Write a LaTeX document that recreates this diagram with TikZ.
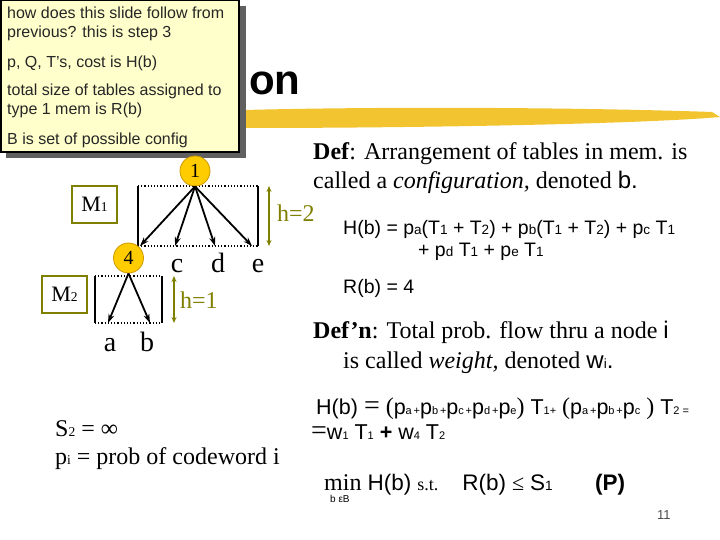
\documentclass[tikz,border=0pt]{standalone}
\usepackage{fontspec}
\setmainfont{Liberation Serif}
\setsansfont{Liberation Sans}
\usetikzlibrary{positioning, calc, arrows.meta}
\definecolor{notefill}{RGB}{255,255,204}
\definecolor{shadowgray}{RGB}{96,96,96}
\definecolor{brushyellow}{RGB}{242,196,48}
\definecolor{nodegold}{RGB}{255,204,0}
\definecolor{nodeedge}{RGB}{204,153,0}
\definecolor{olive}{RGB}{128,128,0}
\newcommand{\fsz}[1]{\fontsize{#1}{#1}\selectfont}
\newcommand{\lowsub}[1]{{\fontsize{11}{11}\selectfont #1}}
\newcommand{\midsub}[1]{{\fontsize{13.5}{13.5}\selectfont #1}}
\tikzset{
  notetext/.style={anchor=base west, inner sep=0pt, font=\sffamily\fsz{16}, text=black!85},
  slidetext/.style={anchor=base west, inner sep=0pt, font=\fsz{24}},
  formula/.style={anchor=base west, inner sep=0pt, font=\sffamily\fsz{19.5}},
  treenode/.style={circle, draw=nodeedge, thick, fill=nodegold, minimum size=30pt, inner sep=0pt, font=\fsz{20}},
  levelside/.style={draw=black, line width=2pt},
  levelrim/.style={draw=black, dotted, line width=1.2pt},
  treeedge/.style={draw=black, line width=1.8pt, -{Stealth[length=9pt,width=6pt]}},
  memlabel/.style={draw=olive, line width=1.5pt, minimum width=45pt, minimum height=37pt, inner sep=0pt, font=\fsz{22}},
  heightarrow/.style={draw=olive, line width=1.5pt, {Stealth[length=6pt,width=5pt]}-{Stealth[length=6pt,width=5pt]}},
  heightlabel/.style={anchor=west, inner sep=0pt, text=olive, font=\fsz{24}},
  leaf/.style={anchor=base, inner sep=0pt, font=\fsz{28}}
}

\begin{document}
\begin{tikzpicture}[x=1pt, y=-1pt]
  \useasboundingbox (0,0) rectangle (720,540);
  \fill[white] (0,0) rectangle (720,540);

  \node[anchor=base west, inner sep=0pt, font=\sffamily\bfseries\fsz{42}] (title) at (249,95) {on};
  \fill[brushyellow] (244,110) .. controls (400,106) and (600,108) .. (712,112)
    -- (720,117) .. controls (640,124) and (420,128) .. (244,128) -- cycle;

  \fill[shadowgray] (6,6) rectangle (246,158);
  \draw[line width=1.5pt, fill=notefill] (0.75,0.75) rectangle (239,152);
  \node[notetext] (q1) at (7,19) {how does this slide follow from};
  \node[notetext] (q2) at (7,38) {previous? this is step 3};
  \node[notetext] (q3) at (7,68) {p, Q, T's, cost is H(b)};
  \node[notetext] (q4) at (7,96) {total size of tables assigned to};
  \node[notetext] (q5) at (7,115) {type 1 mem is R(b)};
  \node[notetext] (q6) at (7,145) {B is set of possible config};

  \draw[levelside] (138,186) -- (138,246) (258,186) -- (258,246);
  \draw[levelrim] (138,186) -- (258,186) (138,246) -- (258,246);
  \draw[levelside] (95,276) -- (95,323) (162,276) -- (162,323);
  \draw[levelrim] (95,276) -- (162,276) (95,323) -- (162,323);

  \node[treenode] (n1) at (195,171) {1};
  \coordinate (t4) at (140,246);
  \coordinate (tc) at (175,246);
  \coordinate (td) at (215,246);
  \coordinate (te) at (252,246);
  \foreach \t in {t4,tc,td,te}
    \draw[treeedge] (n1.south) -- (\t);
  \node[treenode] (n4) at (128.5,258) {4};
  \coordinate (ta) at (108,323);
  \coordinate (tb) at (150,323);
  \foreach \t in {ta,tb}
    \draw[treeedge] (n4.south) -- (\t);

  \node[leaf] (c) at (177,272) {c};
  \node[leaf] (d) at (218,272) {d};
  \node[leaf] (e) at (258,272) {e};
  \node[leaf] (a) at (110,351) {a};
  \node[leaf] (b) at (147,351) {b};

  \node[memlabel] (m1) at (94.5,204.5) {M\midsub{1}};
  \node[memlabel] (m2) at (64.5,294.5) {M\midsub{2}};

  \coordinate (h2top) at (269,186);
  \coordinate (h2bot) at (269,246);
  \draw[heightarrow] (h2top) -- (h2bot);
  \node[heightlabel] (h2) at (277,213) {h=2};
  \coordinate (h1top) at (174,276);
  \coordinate (h1bot) at (174,323);
  \draw[heightarrow] (h1top) -- (h1bot);
  \node[heightlabel] (h1) at (180,300) {h=1};

  \node[slidetext] (def) at (313,160) {\textbf{Def}: Arrangement of tables in mem. is};
  \node[slidetext] (conf) at (313,189) {called a \textit{configuration,} denoted {\sffamily b.}};
  \node[formula] (hb) at (343,235) {H(b) = p\midsub{a}(T\midsub{1} + T\midsub{2}) + p\midsub{b}(T\midsub{1} + T\midsub{2}) + p\midsub{c} T\midsub{1}};
  \node[formula] (hb2) at (418,256) {+ p\midsub{d} T\midsub{1} + p\midsub{e} T\midsub{1}};
  \node[formula] (rb) at (343,293) {R(b) = 4};
  \node[slidetext] (defn) at (313,338) {\textbf{Def’n}: Total prob. flow thru a node {\sffamily i}};
  \node[slidetext] (wgt) at (343,368) {is called \textit{weight,} denoted {\sffamily w\midsub{i}.}};
  \node[slidetext] (hw) at (316,414) {{\sffamily\fsz{21.5}H(b)} {\fsz{28}=} (\sffamily\fsz{21.5}p\lowsub{a\,+}p\lowsub{b\,+}p\lowsub{c\,+}p\lowsub{d\,+}p\lowsub{e}\rmfamily\fsz{24}) \sffamily\fsz{21.5}T\lowsub{1+} \rmfamily\fsz{24}(\sffamily\fsz{21.5}p\lowsub{a\,+}p\lowsub{b\,+}p\lowsub{c}\rmfamily\fsz{24} ) \sffamily\fsz{21.5}T\lowsub{2 =}};
  \node[slidetext] (hw2) at (311,439) {\fsz{28}=\sffamily\fsz{21.5}w\lowsub{1} T\lowsub{1} \textbf{+} w\lowsub{4} T\lowsub{2}};
  \node[slidetext] (prob) at (324,490) {min {\sffamily\fsz{22.5}H(b)} {\fsz{18}s.t.}\quad{\sffamily\fsz{22.5}R(b)} {\fsz{22}≤} {\sffamily\fsz{22.5}S\midsub{1}}};
  \node[anchor=base west, inner sep=0pt, font=\sffamily\bfseries\fsz{22.5}] (pname) at (595,490) {(P)};
  \node[anchor=base west, inner sep=0pt, font=\sffamily\fsz{10}] (bset) at (330,502) {b εB};
  \node[anchor=base west, inner sep=0pt, font=\sffamily\fsz{13}, text=black!70] (page) at (657,519) {11};

  \node[slidetext] (s2) at (55,436) {S\midsub{2} = ∞};
  \node[slidetext] (pi) at (55,464) {p\midsub{i} = prob of codeword i};
\end{tikzpicture}
\end{document}
